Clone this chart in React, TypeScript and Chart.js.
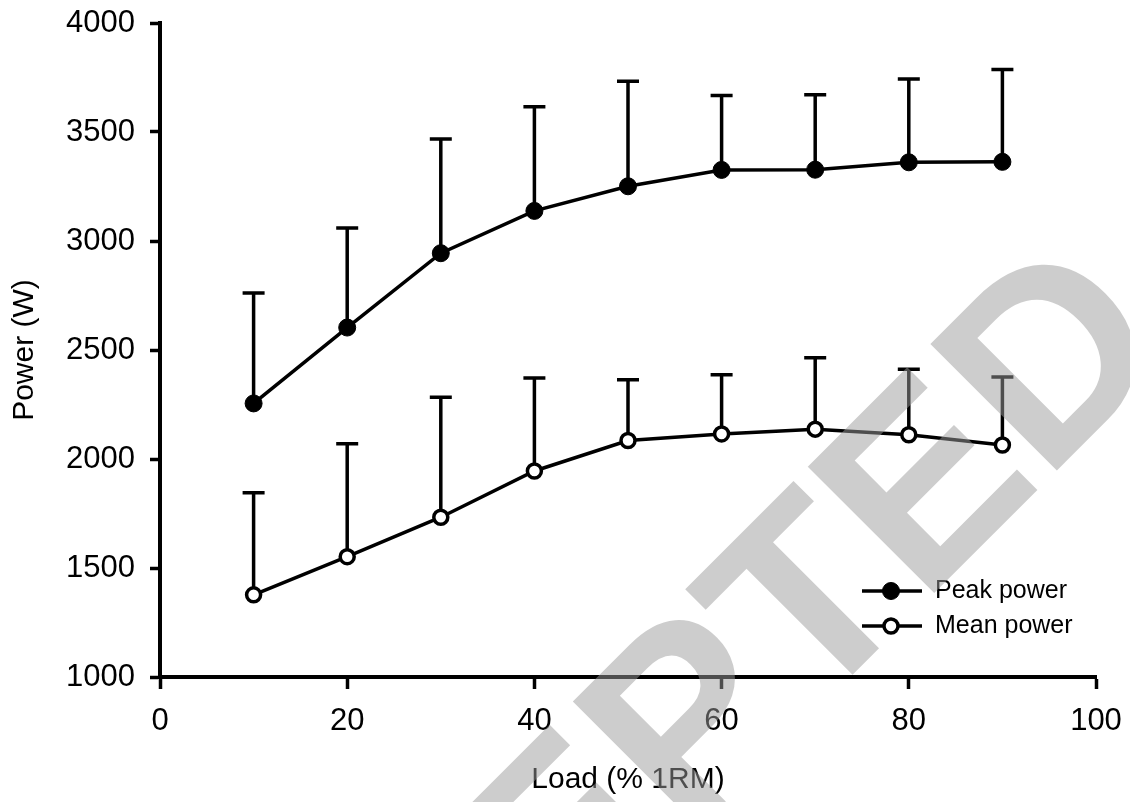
import React, { useEffect, useRef } from 'react';
import { Chart, registerables } from 'chart.js';

Chart.register(...registerables);

// ---- data ----
const loads = [10, 20, 30, 40, 50, 60, 70, 80, 90];
const peakPower = [2255, 2603, 2944, 3138, 3251, 3326, 3327, 3361, 3363];
const peakSD = [506, 457, 524, 478, 482, 342, 344, 382, 424];
const meanPower = [1377, 1552, 1733, 1945, 2085, 2115, 2137, 2111, 2064];
const meanSD = [468, 518, 550, 427, 278, 272, 328, 301, 312];
const xTicks = [0, 20, 40, 60, 80, 100];
const yTicks = [1000, 1500, 2000, 2500, 3000, 3500, 4000];
const seriesLabels = ['Peak power', 'Mean power'];
const xTitle = 'Load (% 1RM)';
const yTitle = 'Power (W)';
const watermarkText = 'ACCEPTED';

const FONT = '"Liberation Sans", Arial, Helvetica, sans-serif';

const errorBarPlugin = {
  id: 'errorBars',
  beforeDatasetsDraw(chart: any) {
    const { ctx, scales } = chart;
    const xs = scales.x;
    const ys = scales.y;
    chart.data.datasets.forEach((ds: any) => {
      const sd: number[] = ds.errorUp || [];
      ctx.save();
      ctx.strokeStyle = '#000';
      ctx.lineWidth = 3.5;
      ctx.lineCap = 'butt';
      ds.data.forEach((pt: any, i: number) => {
        const x = xs.getPixelForValue(pt.x);
        const y0 = ys.getPixelForValue(pt.y);
        const y1 = ys.getPixelForValue(pt.y + sd[i]);
        ctx.beginPath();
        ctx.moveTo(x, y0);
        ctx.lineTo(x, y1);
        ctx.moveTo(x - 11, y1);
        ctx.lineTo(x + 11, y1);
        ctx.stroke();
      });
      ctx.restore();
    });
  },
};

const legendPlugin = {
  id: 'lineLegend',
  afterDatasetsDraw(chart: any) {
    const { ctx } = chart;
    chart.data.datasets.forEach((ds: any, i: number) => {
      const y = 591 + i * 35;
      ctx.save();
      ctx.strokeStyle = '#000';
      ctx.lineWidth = 3.5;
      ctx.beginPath();
      ctx.moveTo(862, y);
      ctx.lineTo(922, y);
      ctx.stroke();
      ctx.beginPath();
      ctx.arc(891, y, ds.pointRadius, 0, Math.PI * 2);
      ctx.fillStyle = ds.pointBackgroundColor;
      ctx.fill();
      ctx.lineWidth = ds.pointBorderWidth;
      ctx.strokeStyle = ds.pointBorderColor;
      ctx.stroke();
      ctx.font = `25px ${FONT}`;
      ctx.fillStyle = '#000';
      ctx.textBaseline = 'middle';
      ctx.textAlign = 'left';
      ctx.fillText(ds.label, 935, y);
      ctx.restore();
    });
  },
};

const watermarkPlugin = {
  id: 'watermark',
  afterDraw(chart: any) {
    const { ctx } = chart;
    ctx.save();
    ctx.font = `bold 260px ${FONT}`;
    ctx.fillStyle = 'rgba(155,155,155,0.5)';
    ctx.textBaseline = 'alphabetic';
    ctx.textAlign = 'left';
    ctx.rotate(-Math.PI / 4);
    const pre = ctx.measureText(watermarkText.slice(0, 5)).width;
    ctx.fillText(watermarkText, 65 - pre, 1080);
    ctx.restore();
  },
};

export default function App() {
  const canvasRef = useRef<HTMLCanvasElement | null>(null);

  useEffect(() => {
    const canvas = canvasRef.current;
    if (!canvas) return;
    const chart = new Chart(canvas, {
      type: 'line',
      data: {
        datasets: [
          {
            label: seriesLabels[0],
            data: loads.map((x, i) => ({ x, y: peakPower[i] })),
            errorUp: peakSD,
            borderColor: '#000',
            borderWidth: 3.5,
            tension: 0,
            pointRadius: 8.5,
            pointHoverRadius: 8.5,
            pointBackgroundColor: '#000',
            pointBorderColor: '#000',
            pointBorderWidth: 1,
            fill: false,
          } as any,
          {
            label: seriesLabels[1],
            data: loads.map((x, i) => ({ x, y: meanPower[i] })),
            errorUp: meanSD,
            borderColor: '#000',
            borderWidth: 3.5,
            tension: 0,
            pointRadius: 7,
            pointHoverRadius: 7,
            pointBackgroundColor: '#fff',
            pointBorderColor: '#000',
            pointBorderWidth: 3.5,
            fill: false,
          } as any,
        ],
      },
      options: {
        responsive: false,
        animation: false,
        devicePixelRatio: 1,
        clip: false as any,
        layout: { padding: { top: 23, right: 34, left: 0, bottom: 0 } },
        plugins: {
          legend: { display: false },
          tooltip: { enabled: false },
        },
        scales: {
          x: {
            type: 'linear',
            min: 0,
            max: 100,
            afterBuildTicks: (s: any) => {
              s.ticks = xTicks.map((v) => ({ value: v }));
            },
            afterFit: (s: any) => {
              s.height = 125;
              s.paddingLeft = 0;
              s.paddingRight = 0;
            },
            grid: {
              drawOnChartArea: false,
              drawTicks: true,
              tickLength: 12,
              tickWidth: 3.5,
              tickColor: '#000',
            },
            border: { display: true, color: '#000', width: 4 },
            ticks: {
              color: '#000',
              padding: 14,
              maxRotation: 0,
              font: { family: FONT, size: 31 },
              callback: (v: any) => String(v),
            },
            title: {
              display: true,
              text: xTitle,
              color: '#000',
              font: { family: FONT, size: 30 },
              padding: { top: 0, bottom: 4 },
            },
          },
          y: {
            type: 'linear',
            min: 1000,
            max: 4000,
            afterBuildTicks: (s: any) => {
              s.ticks = yTicks.map((v) => ({ value: v }));
            },
            afterFit: (s: any) => {
              s.width = 160;
              s.paddingTop = 0;
              s.paddingBottom = 0;
            },
            grid: {
              drawOnChartArea: false,
              drawTicks: true,
              tickLength: 10,
              tickWidth: 3.5,
              tickColor: '#000',
            },
            border: { display: true, color: '#000', width: 4 },
            ticks: {
              color: '#000',
              padding: 15,
              font: { family: FONT, size: 31 },
              callback: (v: any) => String(v),
            },
            title: {
              display: true,
              text: yTitle,
              color: '#000',
              font: { family: FONT, size: 30 },
              padding: { top: 7, bottom: 0 },
            },
          },
        },
      },
      plugins: [errorBarPlugin, legendPlugin, watermarkPlugin],
    });
    return () => {
      chart.destroy();
    };
  }, []);

  return (
    <div
      style={{
        position: 'absolute',
        left: 0,
        top: 0,
        width: 1130,
        height: 802,
        background: '#fff',
      }}
    >
      <canvas ref={canvasRef} width={1130} height={802} style={{ display: 'block' }} />
    </div>
  );
}
